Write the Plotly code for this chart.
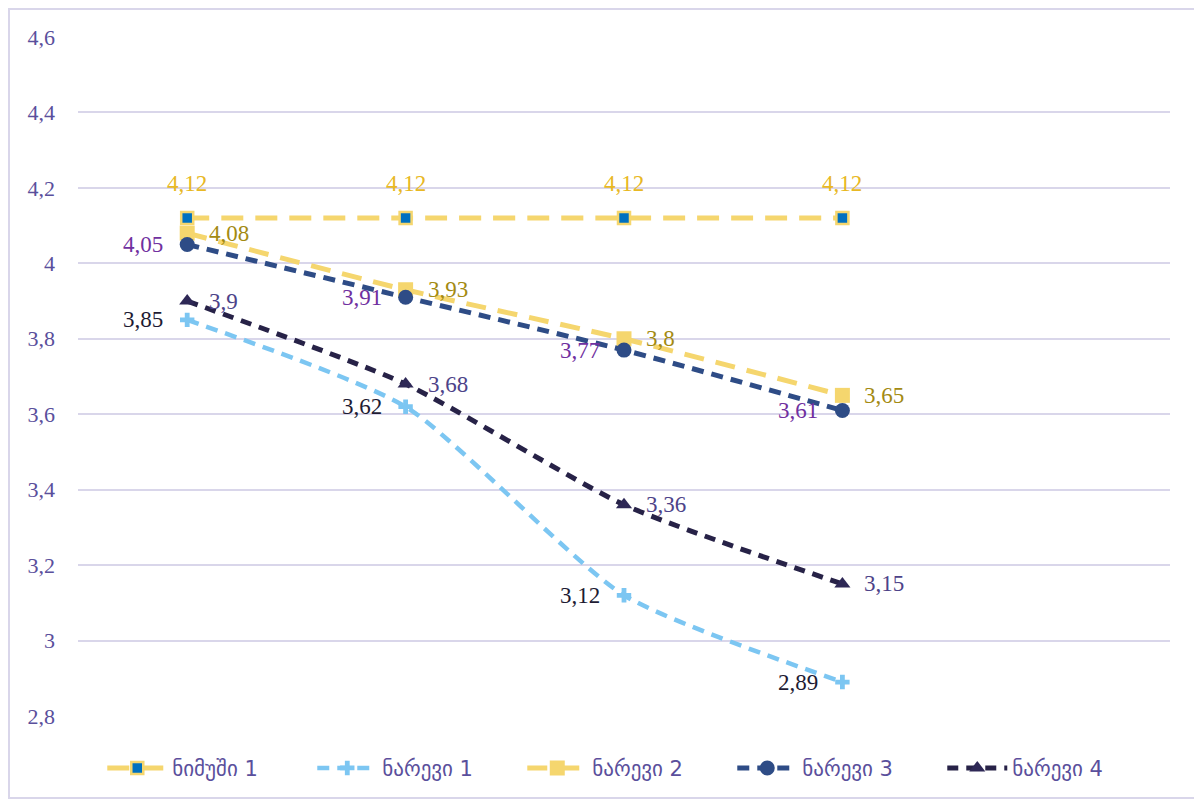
import plotly.graph_objects as go

categories = ["c1", "c2", "c3", "c4", "c5"]
series_names = ["ნიმუში 1", "ნარევი 1", "ნარევი 2", "ნარევი 3", "ნარევი 4"]
nimushi1 = [4.12, 4.12, 4.12, 4.12, None]
narevi1 = [3.85, 3.62, 3.12, 2.89, None]
narevi2 = [4.08, 3.93, 3.80, 3.65, None]
narevi3 = [4.05, 3.91, 3.77, 3.61, None]
narevi4 = [3.90, 3.68, 3.36, 3.15, None]
ytick_vals = [2.8, 3.0, 3.2, 3.4, 3.6, 3.8, 4.0, 4.2, 4.4, 4.6]
ytick_text = ["2,8", "3", "3,2", "3,4", "3,6", "3,8", "4", "4,2", "4,4", "4,6"]

TICK = "#5A4F9C"
SERIF = "Liberation Serif"

styles = [
    dict(values=nimushi1, color="#F5D66E", dash="22px,12px", width=5,
         marker=dict(symbol="square", size=12, color="#0070C0", line=dict(color="#F5D66E", width=2.5)),
         label_color="#E8B824", pos="top"),
    dict(values=narevi1, color="#7CC6F2", dash="12px,8px", width=4.5,
         marker=dict(symbol="cross", size=12, color="#7CC6F2", line=dict(width=0)),
         label_color="#1E1B33", pos="left"),
    dict(values=narevi2, color="#F5D66E", dash="20px,12px", width=5,
         marker=dict(symbol="square", size=15, color="#F5D66E", line=dict(width=0)),
         label_color="#A38A12", pos="right"),
    dict(values=narevi3, color="#2E4C86", dash="12px,8px", width=5,
         marker=dict(symbol="circle", size=15, color="#2E4C86", line=dict(width=0)),
         label_color="#7030A0", pos="left"),
    dict(values=narevi4, color="#272247", dash="11px,8px", width=5,
         marker=dict(symbol="triangle-up", size=14, color="#2E2856", line=dict(width=0)),
         label_color="#4D4389", pos="right"),
]

fig = go.Figure()
annotations = []
for name, st in zip(series_names, styles):
    fig.add_trace(go.Scatter(
        x=categories, y=st["values"], name=name, mode="lines+markers",
        line=dict(color=st["color"], width=st["width"], dash=st["dash"], shape="spline", smoothing=0.6),
        marker=st["marker"], connectgaps=False,
    ))
    for xc, v in zip(categories, st["values"]):
        if v is None:
            continue
        txt = f"{v:.2f}".rstrip("0").rstrip(".").replace(".", ",")
        a = dict(x=xc, y=v, text=txt, showarrow=False,
                 font=dict(family=SERIF, size=23, color=st["label_color"]))
        if st["pos"] == "top":
            a.update(yanchor="middle", xanchor="center", yshift=35)
        elif st["pos"] == "left":
            a.update(xanchor="right", yanchor="middle", xshift=-22)
        else:
            a.update(xanchor="left", yanchor="middle", xshift=20)
        annotations.append(a)

fig.update_layout(
    width=1194, height=797,
    margin=dict(l=70, r=32, t=29, b=89, autoexpand=False),
    paper_bgcolor="white", plot_bgcolor="white",
    annotations=annotations,
    showlegend=True,
    legend=dict(orientation="h", x=0.503, xanchor="center", y=-0.077, yanchor="middle",
                font=dict(family="DejaVu Sans", size=21, color=TICK),
                bgcolor="rgba(0,0,0,0)",
                entrywidth=135, itemwidth=60, traceorder="normal"),
    xaxis=dict(type="category", categoryorder="array", categoryarray=categories,
               range=[-0.5, 4.5], showticklabels=False, showgrid=False, zeroline=False,
               showline=False, ticks="", automargin=False),
    yaxis=dict(range=[2.8, 4.6], tickvals=ytick_vals, ticktext=ytick_text,
               showgrid=True, gridcolor="#D9D6EA", gridwidth=1.5, zeroline=False,
               showline=False, ticks="", ticklabelstandoff=22, automargin=False,
               tickfont=dict(family=SERIF, size=22, color=TICK)),
    shapes=[dict(type="rect", xref="paper", yref="paper",
                 x0=-0.0632, x1=1.0229, y0=-0.1208, y1=1.0412,
                 line=dict(color="#D9D6EA", width=2), layer="below")],
)

fig.write_html("out.html")
